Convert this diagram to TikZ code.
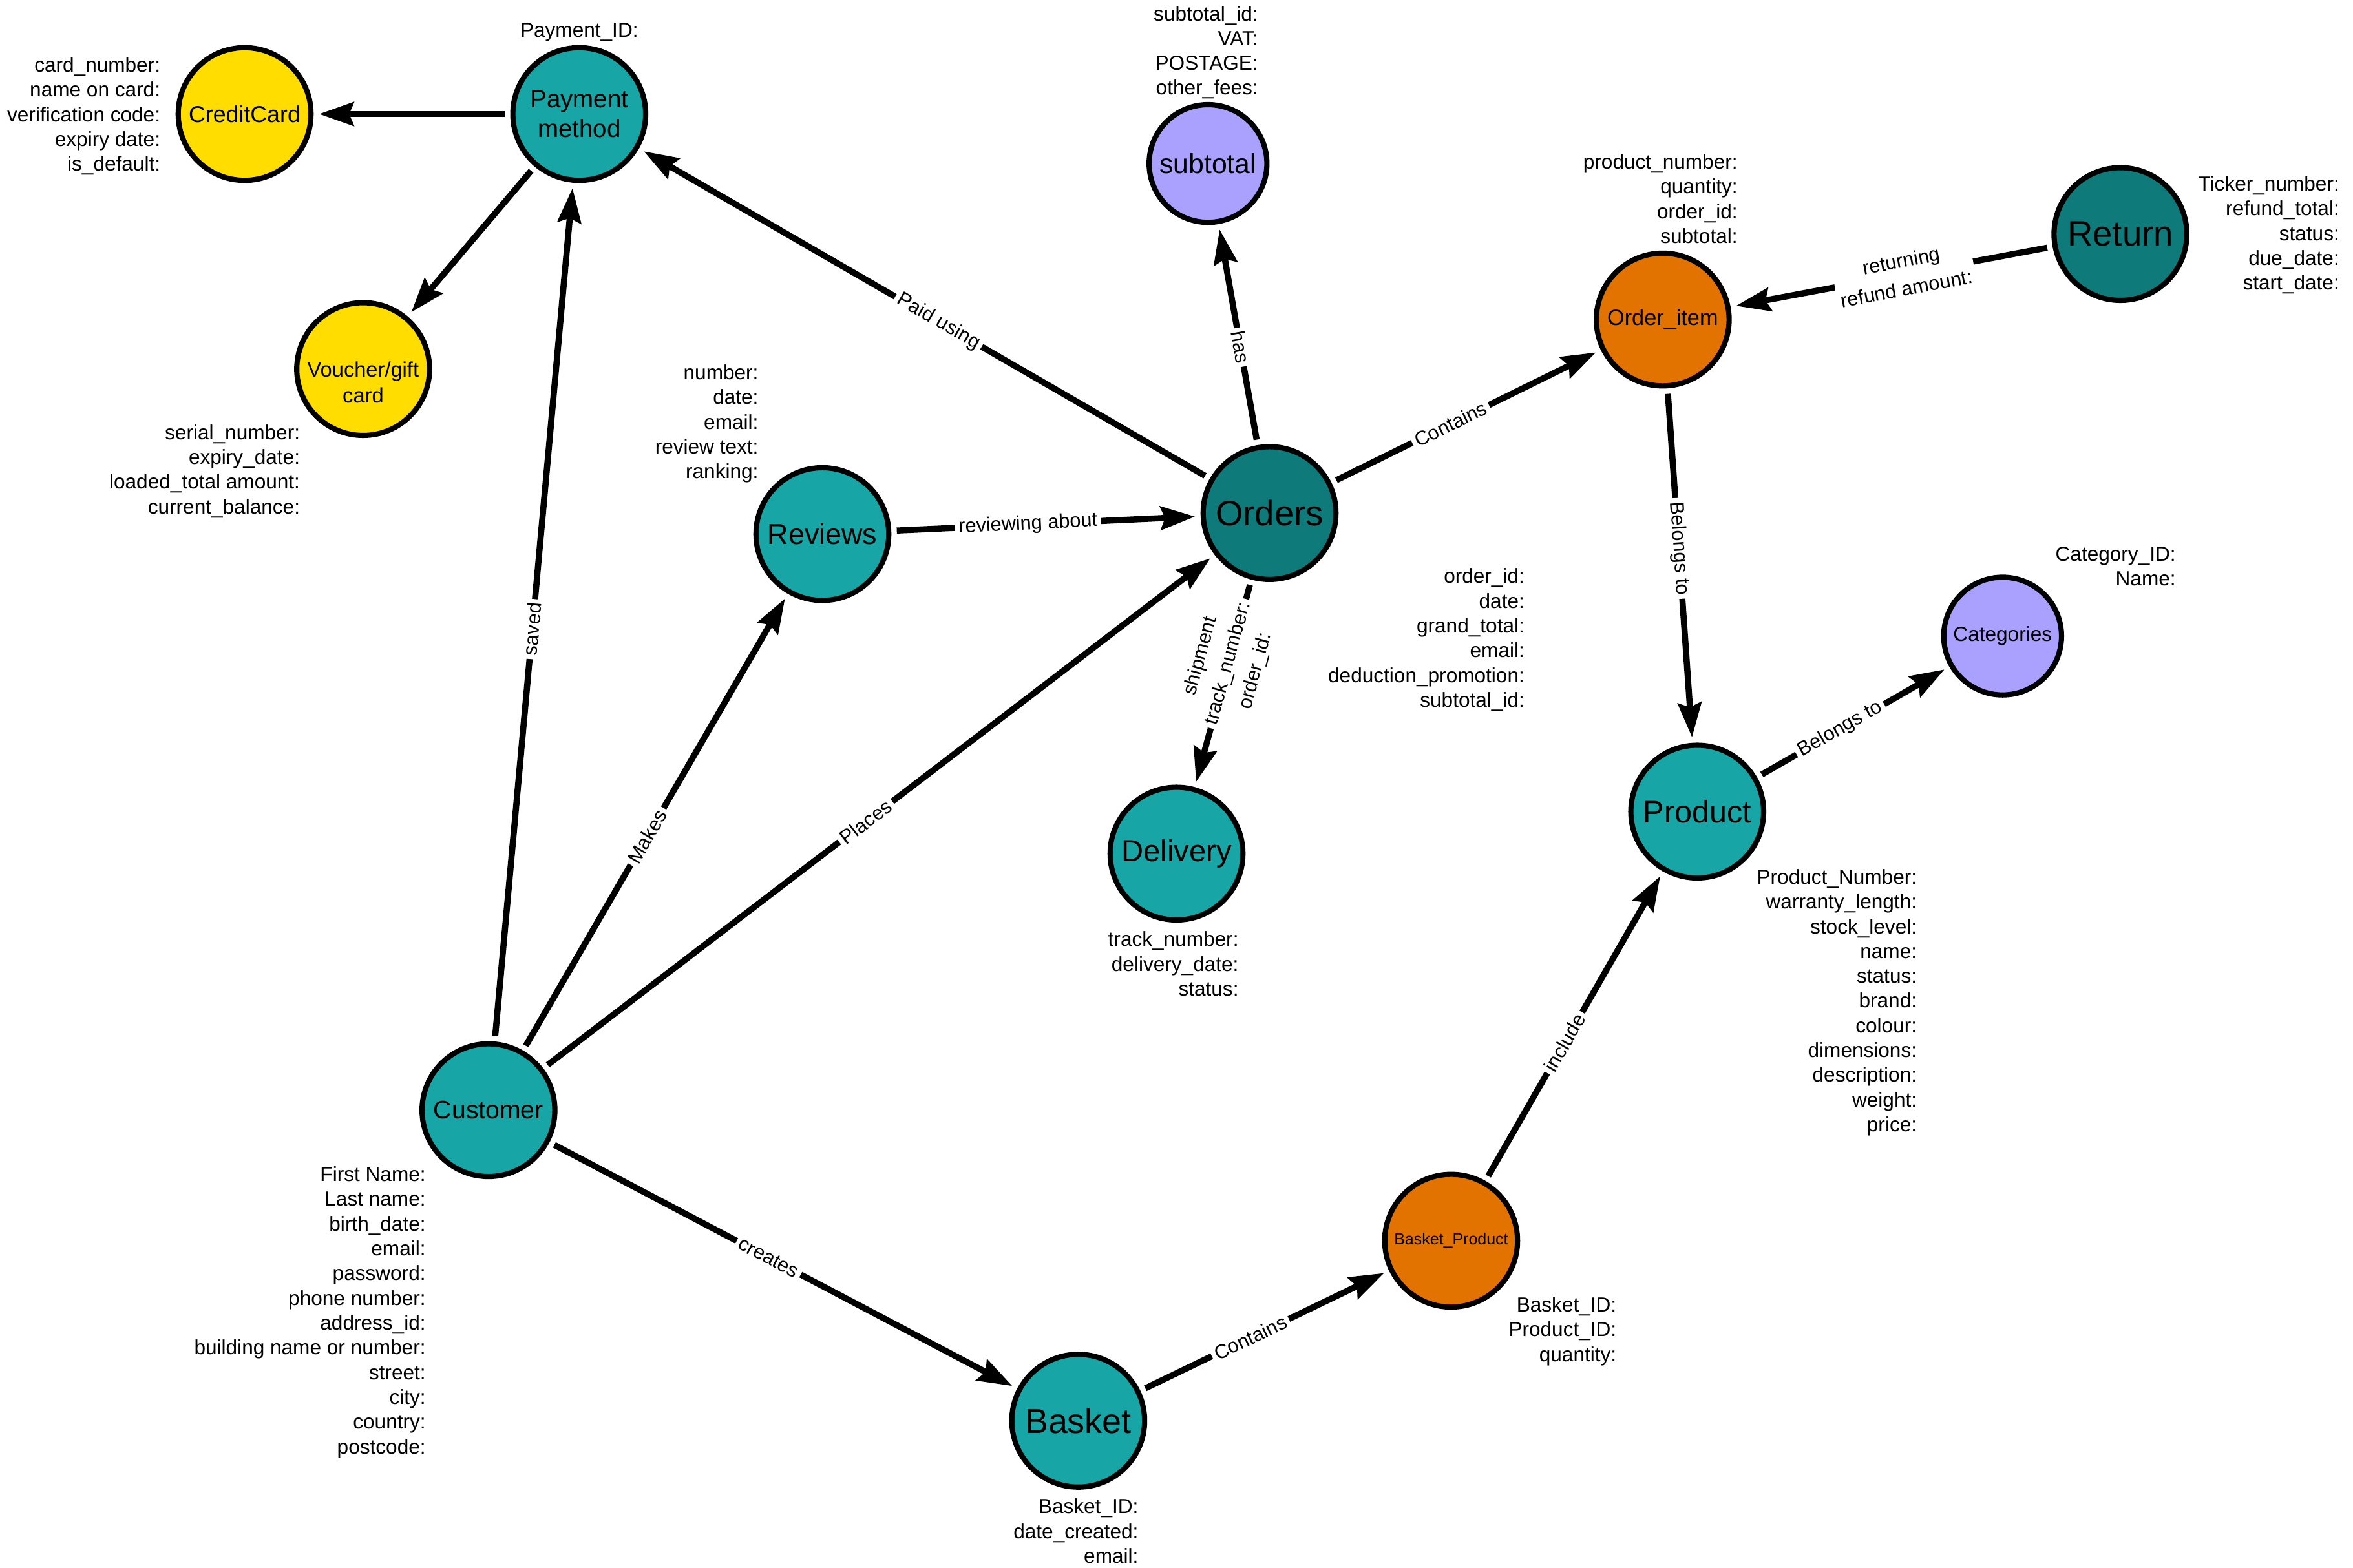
\documentclass[tikz,border=0pt]{standalone}
\usepackage{fontspec}
\setmainfont{Liberation Sans}
\usetikzlibrary{arrows.meta}
\definecolor{tealA}{RGB}{23,166,165}
\definecolor{tealB}{RGB}{14,122,122}
\definecolor{yell}{RGB}{255,221,0}
\definecolor{lilac}{RGB}{170,161,255}
\definecolor{orng}{RGB}{226,115,0}
\tikzset{
  entity/.style={circle, draw=black, line width=0.175cm, minimum size=4.425cm,
    inner sep=0pt, outer sep=0.27cm, align=center},
  smallentity/.style={entity, minimum size=3.925cm},
  attr/.style={anchor=north east, align=right, inner sep=0pt,
    font=\fontsize{19.35}{23.47}\selectfont},
  rel/.style={line width=0.205cm, -{Stealth[length=1.15cm,width=0.78cm,inset=0.15cm]}},
  lbl/.style={fill=white, inner sep=0.12cm, sloped, align=center,
    font=\fontsize{18.8}{27}\selectfont},
}
\begin{document}
\begin{tikzpicture}[x=0.05cm,y=-0.05cm]
  \useasboundingbox (0,0) rectangle (1568,1045);
  % Entitaeten
  \node[entity, fill=yell, font=\fontsize{21.9}{26}\selectfont] (credit) at (163,76) {CreditCard};
  \node[entity, fill=tealA, font=\fontsize{23.6}{27.9}\selectfont] (payment) at (386,76) {Payment\\method};
  \node[entity, fill=yell, label={[name=voucherlbl, align=center, yshift=-0.45cm,
    font=\fontsize{20}{24.3}\selectfont]center:Voucher/gift\\card}] (voucher) at (242,246) {};
  \node[smallentity, fill=lilac, font=\fontsize{26.2}{30}\selectfont] (subtotal) at (805,109) {subtotal};
  \node[entity, fill=orng, font=\fontsize{21}{25}\selectfont] (orderitem) at (1108,213) {Order\_item};
  \node[entity, fill=tealB, font=\fontsize{33.4}{38}\selectfont] (return) at (1413,156) {Return};
  \node[entity, fill=tealA, font=\fontsize{27.5}{32}\selectfont] (reviews) at (548,356) {Reviews};
  \node[entity, fill=tealB, font=\fontsize{33.4}{38}\selectfont] (orders) at (846,342) {Orders};
  \node[smallentity, fill=lilac, font=\fontsize{19.35}{23}\selectfont] (categories) at (1334.5,424) {Categories};
  \node[entity, fill=tealA, font=\fontsize{28.9}{33}\selectfont] (delivery) at (784,569) {Delivery};
  \node[entity, fill=tealA, font=\fontsize{29.7}{34}\selectfont] (product) at (1131,541) {Product};
  \node[entity, fill=tealA, font=\fontsize{24}{28}\selectfont] (customer) at (325.5,740) {Customer};
  \node[entity, fill=orng, font=\fontsize{15.3}{18}\selectfont] (basketprod) at (967,827) {Basket\_Product};
  \node[entity, fill=tealA, font=\fontsize{33}{38}\selectfont] (basket) at (718.5,947) {Basket};
  % Attribute
  \node[attr] (creditattr) at (107,38) {card\_number:\\name on card:\\verification code:\\expiry date:\\is\_default:};
  \node[attr, anchor=base] (paymentattr) at (386,24.7) {Payment\_ID:};
  \node[attr] (voucherattr) at (200,283) {serial\_number:\\expiry\_date:\\loaded\_total amount:\\current\_balance:};
  \node[attr] (subtotalattr) at (838.5,3.8) {subtotal\_id:\\VAT:\\POSTAGE:\\other\_fees:};
  \node[attr] (orderitemattr) at (1158,102.6) {product\_number:\\quantity:\\order\_id:\\subtotal:};
  \node[attr] (returnattr) at (1559,117.3) {Ticker\_number:\\refund\_total:\\status:\\due\_date:\\start\_date:};
  \node[attr] (reviewsattr) at (505.5,243) {number:\\date:\\email:\\review text:\\ranking:};
  \node[attr] (ordersattr) at (1016,378.8) {order\_id:\\date:\\grand\_total:\\email:\\deduction\_promotion:\\subtotal\_id:};
  \node[attr] (categoriesattr) at (1450,364.3) {Category\_ID:\\Name:};
  \node[attr] (deliveryattr) at (825.5,620.8) {track\_number:\\delivery\_date:\\status:};
  \node[attr] (productattr) at (1277.5,579.3) {Product\_Number:\\warranty\_length:\\stock\_level:\\name:\\status:\\brand:\\colour:\\dimensions:\\description:\\weight:\\price:};
  \node[attr] (customerattr) at (283.8,777.5) {First Name:\\Last name:\\birth\_date:\\email:\\password:\\phone number:\\address\_id:\\building name or number:\\street:\\city:\\country:\\postcode:};
  \node[attr] (basketprodattr) at (1077.3,864.5) {Basket\_ID:\\Product\_ID:\\quantity:};
  \node[attr] (basketattr) at (758.7,998.9) {Basket\_ID:\\date\_created:\\email:};
  % Beziehungen
  \draw[rel] (payment) -- (credit);
  \draw[rel] (payment) -- (voucher);
  \draw[rel] (customer) -- node[lbl, pos=0.48] {saved} (payment);
  \draw[rel] (orders) -- node[lbl, pos=0.475] {Paid using} (payment);
  \draw[rel] (orders) -- node[lbl, pos=0.44] {has} (subtotal);
  \draw[rel] (orders) -- node[lbl, pos=0.44] {Contains} (orderitem);
  \draw[rel] (return) -- node[lbl, pos=0.46] {returning\\refund amount:} (orderitem);
  \draw[rel] (reviews) -- node[lbl, pos=0.44] {reviewing about} (orders);
  \draw[rel] (orderitem) -- node[lbl, pos=0.45] {Belongs to} (product);
  \draw[rel] (product) -- node[lbl, pos=0.43] {Belongs to} (categories);
  \draw[rel] (orders) -- node[lbl, pos=0.4] {shipment\\track\_number:\\order\_id:} (delivery);
  \draw[rel] (customer) -- node[lbl, pos=0.468] {Makes} (reviews);
  \draw[rel] (customer) -- node[lbl, pos=0.48] {Places} (orders);
  \draw[rel] (customer) -- node[lbl, pos=0.468] {creates} (basket);
  \draw[rel] (basket) -- node[lbl, pos=0.44] {Contains} (basketprod);
  \draw[rel] (basketprod) -- node[lbl, pos=0.445] {include} (product);
\end{tikzpicture}
\end{document}
